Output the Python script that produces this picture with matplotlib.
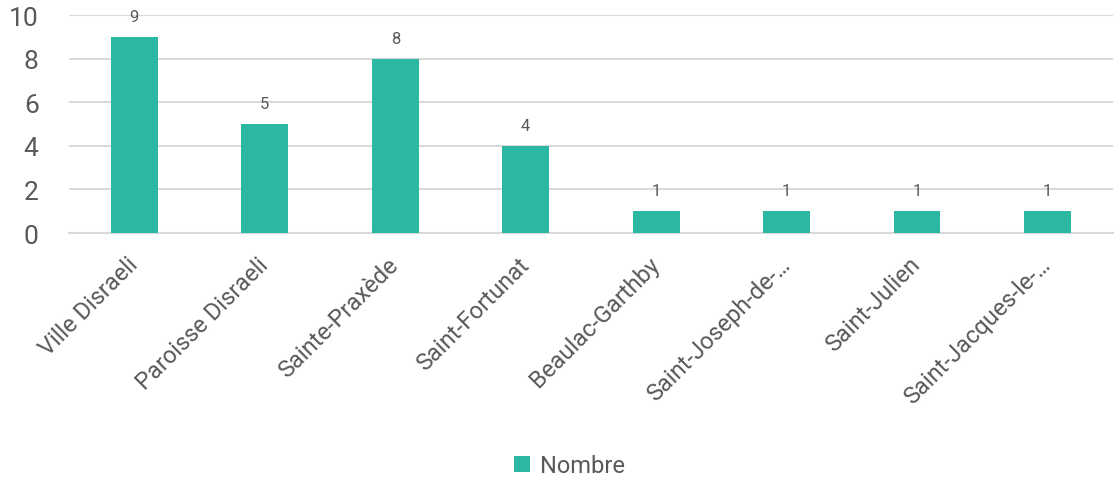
import matplotlib
matplotlib.use("Agg")
import matplotlib.pyplot as plt
import numpy as np

categories = ["Ville Disraeli", "Paroisse Disraeli", "Sainte-Praxède", "Saint-Fortunat",
              "Beaulac-Garthby", "Saint-Joseph-de-…", "Saint-Julien", "Saint-Jacques-le-…"]
values = [9, 5, 8, 4, 1, 1, 1, 1]
yticks = [0, 2, 4, 6, 8, 10]

BAR_COLOR = "#2BB8A2"
TEXT_COLOR = "#595959"
GRID_COLOR = "#D9D9D9"

plt.rcParams["font.family"] = ["Roboto", "DejaVu Sans"]

fig = plt.figure(figsize=(11.16, 4.81), dpi=100)
ax = fig.add_axes([0.062, 0.5135, 0.935, 0.4532])

x = np.arange(len(categories))
bars = ax.bar(x, values, width=0.36, color=BAR_COLOR, label="Nombre", zorder=3)

for xi, v in zip(x, values):
    ax.text(xi, v + 0.6, str(v), ha="center", va="bottom", fontsize=12,
            color=TEXT_COLOR)

ax.set_xlim(-0.5, len(categories) - 0.5)
ax.set_ylim(0, 10)
ax.set_yticks(yticks)
ax.set_yticklabels([str(t) for t in yticks], fontsize=19, color=TEXT_COLOR)
ax.set_xticks(x)
ax.set_xticklabels(categories, rotation=45, ha="right", va="center", rotation_mode="anchor",
                   fontsize=17, color=TEXT_COLOR)
ax.tick_params(axis="both", length=0)
ax.tick_params(axis="x", pad=20)
ax.tick_params(axis="y", pad=22)

ax.yaxis.grid(True, color=GRID_COLOR, linewidth=1.5, zorder=0)
ax.set_axisbelow(True)
for side in ["top", "right", "left"]:
    ax.spines[side].set_visible(False)
ax.spines["bottom"].set_color(GRID_COLOR)
ax.spines["bottom"].set_linewidth(1.5)

fig.legend(handles=[bars], labels=["Nombre"], loc="center", bbox_to_anchor=(0.51, 0.03),
           frameon=False, fontsize=17, handlelength=0.7, handleheight=0.7,
           handletextpad=0.4, labelcolor=TEXT_COLOR)

fig.savefig("out.png", dpi=100)
